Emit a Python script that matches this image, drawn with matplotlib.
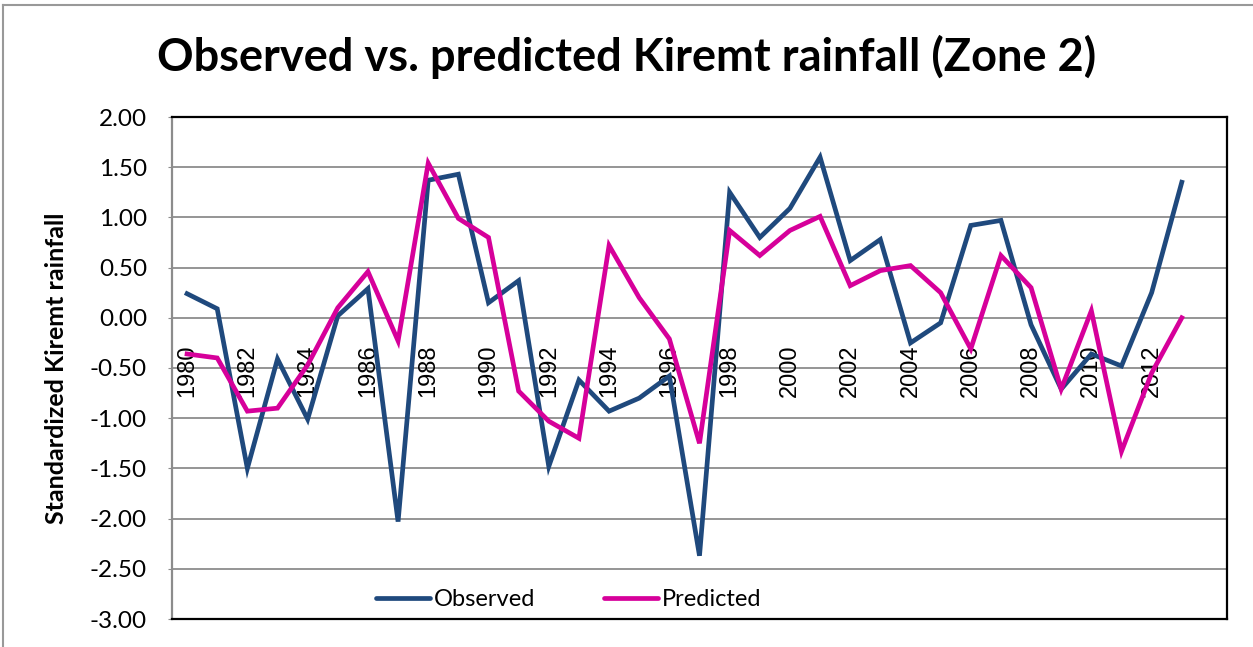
import matplotlib
matplotlib.use('agg')
import matplotlib.pyplot as plt
from matplotlib.lines import Line2D

years = list(range(1980, 2014))
observed = [0.24, 0.09, -1.50, -0.41, -1.01, 0.02, 0.29, -2.03, 1.37, 1.43,
            0.15, 0.37, -1.48, -0.62, -0.93, -0.80, -0.58, -2.37, 1.25, 0.80,
            1.09, 1.60, 0.57, 0.78, -0.25, -0.05, 0.92, 0.97, -0.07, -0.71,
            -0.36, -0.48, 0.25, 1.35]
predicted = [-0.36, -0.40, -0.93, -0.90, -0.47, 0.10, 0.46, -0.23, 1.54, 0.99,
             0.80, -0.73, -1.03, -1.20, 0.72, 0.20, -0.21, -1.25, 0.87, 0.62,
             0.87, 1.01, 0.32, 0.47, 0.52, 0.25, -0.31, 0.62, 0.30, -0.71,
             0.07, -1.33, -0.55, 0.00]
yticks = [2.0, 1.5, 1.0, 0.5, 0.0, -0.5, -1.0, -1.5, -2.0, -2.5, -3.0]

blue = '#1f497d'
pink = '#d6009a'

fig = plt.figure(figsize=(12.53, 6.47), dpi=100)
ax = fig.add_axes([172/1253, 1 - 619/647, (1227-172)/1253, (619-117)/647])

x = list(range(len(years)))
ax.plot(x, observed, color=blue, lw=3.4, solid_joinstyle='miter', zorder=3)
ax.plot(x, predicted, color=pink, lw=3.4, solid_joinstyle='miter', zorder=3)

ax.set_xlim(-0.5, len(years) + 0.5)
ax.set_ylim(-3, 2)
ax.set_yticks(yticks)
ax.set_yticklabels(['%.2f' % v for v in yticks], family='Lato', fontsize=17.5)
ax.set_xticks([])
ax.grid(axis='y', color='#8c8c8c', lw=1.3)
ax.set_axisbelow(True)
ax.tick_params(axis='y', length=3, color='#8c8c8c', pad=15)

for s in ['top', 'right', 'bottom']:
    ax.spines[s].set_color('black')
    ax.spines[s].set_linewidth(1.6)
ax.spines['left'].set_color('#8c8c8c')
ax.spines['left'].set_linewidth(1.6)

# year labels sit on the zero line
for i, yr in enumerate(years):
    if yr % 2 == 0:
        ax.annotate(str(yr), (i, 0), xytext=(0, -19), textcoords='offset points',
                    rotation=90, ha='center', va='top', fontsize=17,
                    family='Liberation Sans', zorder=2)

ax.set_ylabel('Standardized Kiremt rainfall', family='Lato', fontweight='bold',
              fontsize=18, labelpad=16)

fig.text(0.5, 1 - 57/647, 'Observed vs. predicted Kiremt rainfall (Zone 2)',
         ha='center', va='center', family='Lato', fontweight='bold', fontsize=32.5)

handles = [Line2D([], [], color=blue, lw=3.4, solid_capstyle='round'),
           Line2D([], [], color=pink, lw=3.4, solid_capstyle='round')]
ax.legend(handles, ['Observed', 'Predicted'], loc='center',
          bbox_to_anchor=(0.376, 0.038), ncol=2, frameon=False,
          prop={'family': 'Lato', 'size': 17}, handlelength=2.3,
          handletextpad=0.17, columnspacing=2.9)

fig.add_artist(Line2D([3/1253, 3/1253], [0, 1 - 5/647], color='#999999', lw=1.5))
fig.add_artist(Line2D([3/1253, 1], [1 - 5/647, 1 - 5/647], color='#999999', lw=1.5))

fig.savefig('out.png', dpi=100)
